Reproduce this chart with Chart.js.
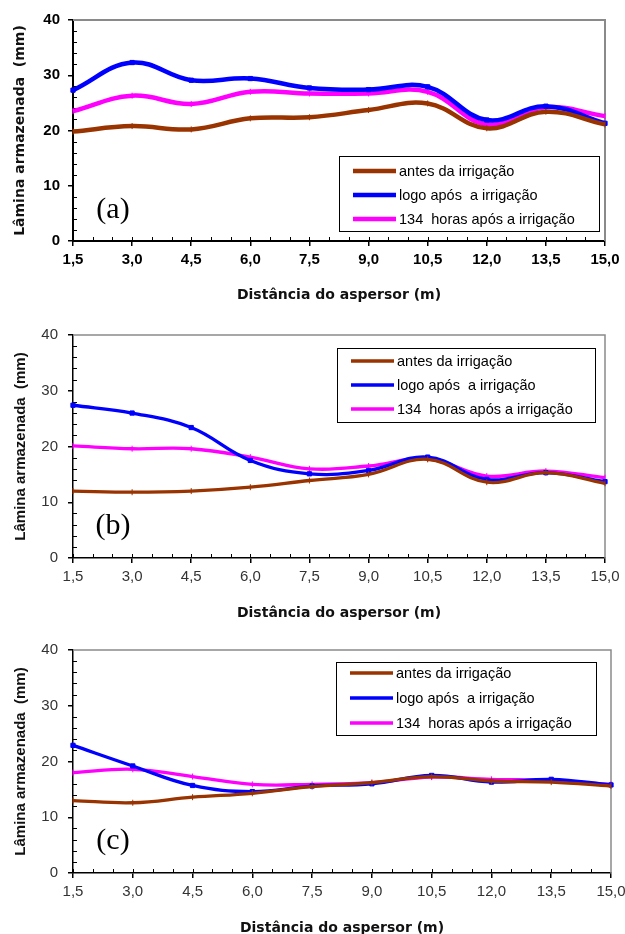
<!DOCTYPE html>
<html>
<head>
<meta charset="utf-8">
<script src="https://cdn.jsdelivr.net/npm/chart.js@4.4.1/dist/chart.umd.min.js"></script>
<style>
  body { margin: 0; background: #fff; }
  canvas { position: absolute; left: 0; }
</style>
</head>
<body>
<canvas id="chartA" width="625" height="310" style="top:0"></canvas>
<canvas id="chartB" width="625" height="315" style="top:310px"></canvas>
<canvas id="chartC" width="625" height="309" style="top:625px"></canvas>
<script>
// distances from the sprinkler (m)
const xLabels = ["1,5", "3,0", "4,5", "6,0", "7,5", "9,0", "10,5", "12,0", "13,5", "15,0"];
const seriesNames = ["antes da irrigação", "logo após  a irrigação", "134  horas após a irrigação"];
const seriesColors = ["#993300", "#0000ff", "#ff00ff"];
const yTicks = [0, 10, 20, 30, 40];

// (a)
const antesA = [19.8, 20.8, 20.2, 22.2, 22.4, 23.7, 24.9, 20.4, 23.4, 21.1];
const logoA  = [27.3, 32.3, 29.1, 29.4, 27.7, 27.4, 27.9, 21.9, 24.4, 21.3];
const horasA = [23.5, 26.3, 24.8, 27.0, 26.7, 26.7, 27.0, 21.1, 24.2, 22.6];
// (b)
const antesB = [12.0, 11.8, 12.0, 12.7, 13.9, 15.0, 17.7, 13.6, 15.3, 13.4];
const logoB  = [27.4, 26.0, 23.4, 17.5, 15.1, 15.7, 18.1, 14.1, 15.3, 13.7];
const horasB = [20.1, 19.6, 19.6, 18.1, 16.0, 16.5, 17.8, 14.7, 15.6, 14.4];
// (c)
const antesC = [13.0, 12.6, 13.6, 14.3, 15.5, 16.2, 17.3, 16.5, 16.3, 15.6];
const logoC  = [22.9, 19.2, 15.7, 14.6, 15.6, 16.0, 17.5, 16.3, 16.8, 15.8];
const horasC = [18.0, 18.6, 17.3, 15.9, 15.9, 16.2, 17.2, 16.8, 16.6, 15.9];

// gray frame on top/right, minor ticks inside the axes
const frameTicks = {
    id: "frameTicks",
    beforeDatasetsDraw(chart, args, o) {
        const { ctx, chartArea: a } = chart;
        ctx.save();
        ctx.strokeStyle = "#8a8a8a";
        ctx.lineWidth = o.frameWidth;
        ctx.beginPath();
        ctx.moveTo(a.left, a.top);
        ctx.lineTo(a.right, a.top);
        ctx.lineTo(a.right, a.bottom);
        ctx.stroke();

        const x = chart.scales.x, y = chart.scales.y;
        ctx.strokeStyle = "#000";
        ctx.lineWidth = 1;
        ctx.beginPath();
        for (let v = 2; v < 40; v += 2) {
            if (v % 10 === 0) continue;
            const py = Math.round(y.getPixelForValue(v)) + 0.5;
            ctx.moveTo(a.left, py);
            ctx.lineTo(a.left + 4, py);
        }
        for (let i = 0; i < xLabels.length - 1; i++) {
            const p0 = x.getPixelForTick(i), p1 = x.getPixelForTick(i + 1);
            for (let k = 0; k < 3; k++) {
                const px = Math.round(p0 + (p1 - p0) * k / 3) + 0.5;
                ctx.moveTo(px, a.bottom);
                ctx.lineTo(px, a.bottom - 4);
            }
        }
        ctx.stroke();
        ctx.restore();
    }
};

// boxed legend inside the plot, and the panel letter
const boxLegend = {
    id: "boxLegend",
    afterDraw(chart, args, o) {
        const ctx = chart.ctx;
        ctx.save();
        ctx.fillStyle = "#fff";
        ctx.fillRect(o.x, o.y, o.w, o.h);
        ctx.strokeStyle = "#000";
        ctx.lineWidth = 1;
        ctx.strokeRect(o.x + 0.5, o.y + 0.5, o.w, o.h);
        chart.data.datasets.forEach((ds, i) => {
            const cy = o.y + o.rowTop + i * o.rowGap;
            ctx.strokeStyle = ds.borderColor;
            ctx.lineWidth = ds.borderWidth;
            ctx.beginPath();
            ctx.moveTo(o.x + 14, cy);
            ctx.lineTo(o.x + 57, cy);
            ctx.stroke();
            ctx.fillStyle = "#000";
            ctx.font = "14.5px 'Liberation Sans', Arial";
            ctx.textBaseline = "middle";
            ctx.fillText(ds.label, o.x + 60, cy + 1);
        });
        ctx.font = "30px 'Liberation Serif', 'Times New Roman'";
        ctx.textAlign = "center";
        ctx.textBaseline = "middle";
        ctx.fillStyle = "#000";
        ctx.fillText(o.panel, 113, o.panelY);
        ctx.restore();
    }
};

function makeChart(id, antes, logo, horas, s) {
    const values = [antes, logo, horas];
    const datasets = values.map((vals, i) => ({
        label: seriesNames[i],
        data: vals,
        borderColor: seriesColors[i],
        backgroundColor: seriesColors[i],
        borderWidth: s.lineWidth,
        tension: 0.4,
        fill: false,
        pointStyle: i === 1 ? "rect" : "line",
        pointRotation: i === 1 ? 0 : 90,
        pointRadius: 3,
        pointBorderWidth: 1
    }));
    const H = s.height;
    return new Chart(document.getElementById(id), {
        type: "line",
        data: { labels: xLabels, datasets: datasets },
        options: {
            responsive: false,
            animation: false,
            events: [],
            layout: { padding: { left: 0, right: s.right, top: s.top, bottom: 0 } },
            plugins: {
                legend: { display: false },
                tooltip: { enabled: false },
                frameTicks: { frameWidth: s.frameWidth },
                boxLegend: s.legend
            },
            scales: {
                x: {
                    type: "category",
                    offset: false,
                    border: { color: "#000", width: s.axisWidth },
                    grid: { drawOnChartArea: false, color: "#000", tickLength: 5, lineWidth: 1.5 },
                    ticks: {
                        autoSkip: false, maxRotation: 0, padding: 5,
                        color: s.tickColor,
                        font: { family: "'Liberation Sans', Arial", size: 15, weight: s.tickWeight }
                    },
                    title: {
                        display: true,
                        text: "Distância do aspersor (m)",
                        color: "#111",
                        font: { family: "'DejaVu Sans'", size: 14, weight: "bold" },
                        padding: { top: 0, bottom: s.xTitleBottom }
                    },
                    afterFit(scale) {
                        scale.height = H - s.bottom;
                        scale.paddingLeft = 0;
                        scale.paddingRight = 0;
                    }
                },
                y: {
                    min: 0, max: 40,
                    afterBuildTicks(scale) { scale.ticks = yTicks.map(v => ({ value: v })); },
                    border: { color: "#000", width: s.axisWidth },
                    grid: { drawOnChartArea: false, color: "#000", tickLength: 5, lineWidth: 1.5 },
                    ticks: {
                        padding: s.yPad,
                        color: s.tickColor,
                        font: { family: "'Liberation Sans', Arial", size: 15, weight: s.tickWeight }
                    },
                    title: {
                        display: true,
                        text: "Lâmina armazenada  (mm)",
                        color: "#111",
                        font: { family: s.yTitleFamily, size: s.yTitleSize, weight: "bold" },
                        padding: { top: 12, bottom: 0 }
                    },
                    afterFit(scale) { scale.width = 73; }
                }
            }
        },
        plugins: [frameTicks, boxLegend]
    });
}

makeChart("chartA", antesA, logoA, horasA, {
    height: 310, top: 20, bottom: 241, right: 20,
    lineWidth: 4.5, frameWidth: 2, axisWidth: 2,
    tickColor: "#000", tickWeight: "bold", yPad: 8, xTitleBottom: 6,
    yTitleFamily: "'DejaVu Sans'", yTitleSize: 14,
    legend: { x: 339, y: 156, w: 260, h: 75, rowTop: 15, rowGap: 24, panel: "(a)", panelY: 210 }
});
makeChart("chartB", antesB, logoB, horasB, {
    height: 315, top: 25, bottom: 248, right: 20,
    lineWidth: 3.3, frameWidth: 1.5, axisWidth: 1.5,
    tickColor: "#333", tickWeight: "normal", yPad: 10, xTitleBottom: 3,
    yTitleFamily: "'Liberation Sans', Arial", yTitleSize: 15,
    legend: { x: 337, y: 38, w: 258, h: 74, rowTop: 13, rowGap: 24, panel: "(b)", panelY: 216 }
});
makeChart("chartC", antesC, logoC, horasC, {
    height: 309, top: 25, bottom: 248, right: 14,
    lineWidth: 3.3, frameWidth: 1.5, axisWidth: 1.5,
    tickColor: "#333", tickWeight: "normal", yPad: 10, xTitleBottom: -3,
    yTitleFamily: "'Liberation Sans', Arial", yTitleSize: 15,
    legend: { x: 336, y: 37, w: 260, h: 73, rowTop: 11, rowGap: 25, panel: "(c)", panelY: 216 }
});
</script>
</body>
</html>
